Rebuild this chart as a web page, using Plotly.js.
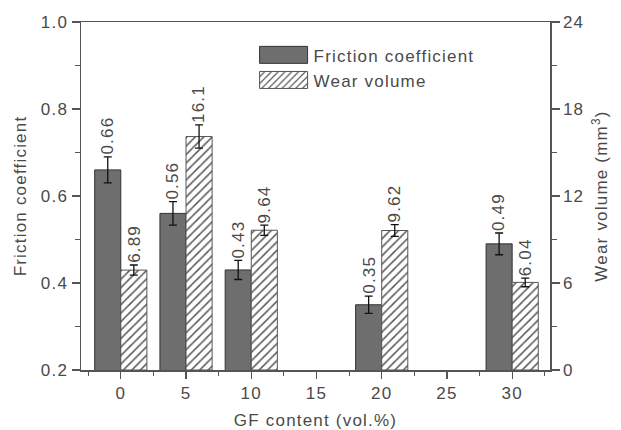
<!DOCTYPE html>
<html>
<head>
<meta charset="utf-8">
<script src="https://cdn.plot.ly/plotly-3.0.1.min.js"></script>
<style>
html,body{margin:0;padding:0;background:#fff;}
#chart{width:621px;height:430px;}
svg text{letter-spacing:1.2px;}
</style>
</head>
<body>
<div id="chart"></div>
<script>
const gfContent = [0, 5, 10, 20, 30];
const friction = [0.66, 0.56, 0.43, 0.35, 0.49];
const frictionErr = [0.03, 0.027, 0.022, 0.02, 0.025];
const wearVolume = [6.89, 16.1, 9.64, 9.62, 6.04];
const wearErr = [0.35, 0.8, 0.35, 0.4, 0.3];
const frictionLabels = ['0.66', '0.56', '0.43', '0.35', '0.49'];
const wearLabels = ['6.89', '16.1', '9.64', '9.62', '6.04'];
const xTicks = [0, 5, 10, 15, 20, 25, 30];

const barW = 2;
const font = 'Liberation Sans, Arial, sans-serif';
const txt = '#4a4a4a';
const axc = '#555';
const fs = 17;

const traces = [
  {
    type: 'bar', name: 'Friction coefficient',
    x: gfContent, y: friction, width: barW, offset: -barW,
    marker: {color: '#6e6e6e', line: {color: '#333', width: 1}},
    error_y: {type: 'data', array: frictionErr, color: '#111', thickness: 1.3, width: 4},
    xaxis: 'x', yaxis: 'y'
  },
  {
    type: 'bar', name: 'Wear volume',
    x: gfContent, y: wearVolume, width: barW, offset: 0,
    marker: {color: '#fff', line: {color: '#555', width: 1},
      pattern: {shape: '/', fgcolor: '#555', bgcolor: '#fff', size: 6, solidity: 0.25}},
    error_y: {type: 'data', array: wearErr, color: '#111', thickness: 1.3, width: 4},
    xaxis: 'x', yaxis: 'y2'
  }
];

const annotations = [];
gfContent.forEach((g, i) => {
  annotations.push({
    x: g - barW / 2, y: friction[i] + frictionErr[i], xref: 'x', yref: 'y',
    text: frictionLabels[i], showarrow: false, textangle: -90,
    xanchor: 'center', yanchor: 'bottom', font: {family: font, size: fs, color: txt}
  });
  annotations.push({
    x: g + barW / 2, y: wearVolume[i] + wearErr[i], xref: 'x', yref: 'y2',
    text: wearLabels[i], showarrow: false, textangle: -90,
    xanchor: 'center', yanchor: 'bottom', font: {family: font, size: fs, color: txt}
  });
});

const layout = {
  width: 621, height: 430,
  margin: {l: 81, r: 71, t: 22, b: 60},
  paper_bgcolor: '#fff', plot_bgcolor: '#fff',
  font: {family: font, size: fs, color: txt},
  showlegend: true,
  legend: {x: 0.368, y: 0.956, xanchor: 'left', yanchor: 'top', bgcolor: 'rgba(0,0,0,0)',
    font: {family: font, size: fs, color: txt}, tracegroupgap: 0, itemwidth: 50},
  xaxis: {
    range: [-3.05, 32.9], tickvals: xTicks, ticktext: xTicks.map(String),
    ticks: 'outside', ticklen: 7, tickwidth: 1.2, tickcolor: axc,
    minor: {dtick: 2.5, tick0: 0, ticks: 'outside', ticklen: 4, tickcolor: axc, tickwidth: 1},
    showline: true, linecolor: axc, linewidth: 1.5, mirror: true,
    showgrid: false, zeroline: false,
    tickfont: {family: font, size: fs, color: txt},
    title: {text: 'GF content (vol.%)', font: {family: font, size: fs, color: txt}, standoff: 14}
  },
  yaxis: {
    range: [0.2, 1.0], dtick: 0.2, tick0: 0.2, tickformat: '.1f',
    ticks: 'outside', ticklen: 8, tickwidth: 1.2, tickcolor: axc,
    minor: {dtick: 0.1, ticks: 'outside', ticklen: 5, tickcolor: axc, tickwidth: 1},
    showline: true, linecolor: axc, linewidth: 1.5,
    showgrid: false, zeroline: false,
    tickfont: {family: font, size: fs, color: txt},
    title: {text: 'Friction coefficient', font: {family: font, size: fs, color: txt}, standoff: 10}
  },
  yaxis2: {
    overlaying: 'y', side: 'right', range: [0, 24], dtick: 6, tick0: 0,
    ticks: 'outside', ticklen: 8, tickwidth: 1.2, tickcolor: axc,
    minor: {dtick: 3, ticks: 'outside', ticklen: 5, tickcolor: axc, tickwidth: 1},
    showline: true, linecolor: axc, linewidth: 1.5,
    showgrid: false, zeroline: false,
    tickfont: {family: font, size: fs, color: txt},
    title: {text: 'Wear volume (mm<sup>3</sup>)', font: {family: font, size: fs, color: txt}, standoff: 12}
  },
  annotations: annotations
};

Plotly.newPlot('chart', traces, layout, {displayModeBar: false, staticPlot: true}).then(gd => {
  // enlarge legend swatches to match the reference's wide boxes
  gd.querySelectorAll('.legend .legendpoints path').forEach(p => {
    p.setAttribute('d', 'M-24,-8.5H24V8.5H-24Z');
  });
});
</script>
</body>
</html>
